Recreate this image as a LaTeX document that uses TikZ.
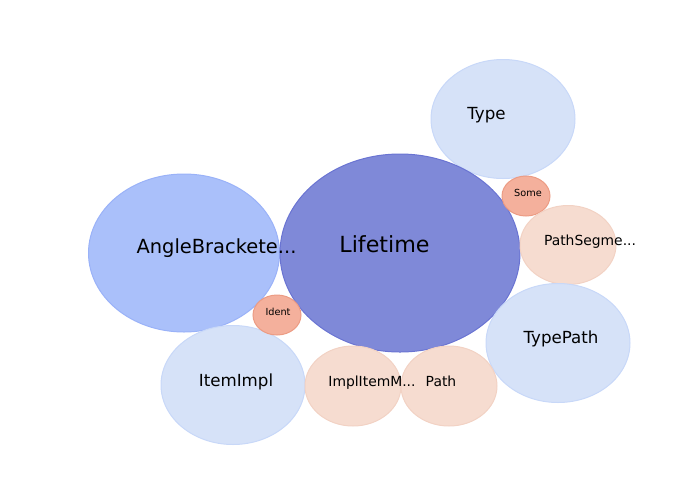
\documentclass[tikz,border=0pt]{standalone}
\usepackage{fontspec}
\setmainfont{DejaVu Sans}
\usepackage{xcolor}
\usetikzlibrary{shapes.geometric}

\definecolor{deepblue}{HTML}{7F89D8}
\definecolor{deepblueedge}{HTML}{6A74D2}
\definecolor{midblue}{HTML}{AAC0FA}
\definecolor{midblueedge}{HTML}{9AB2F8}
\definecolor{paleblue}{HTML}{D6E2F8}
\definecolor{paleblueedge}{HTML}{C8D8F8}
\definecolor{salmon}{HTML}{F4B09C}
\definecolor{salmonedge}{HTML}{EC9C84}
\definecolor{peach}{HTML}{F6DCD0}
\definecolor{peachedge}{HTML}{F2D2C4}

\tikzset{
  bubble/.style={ellipse, inner sep=0pt, outer sep=0pt, line width=0.72pt},
  tag/.style={anchor=base, inner sep=0pt, text=black}
}

\begin{document}
\begin{tikzpicture}[x=0.72pt, y=-0.72pt]
  % canvas, 700 x 500 px
  \useasboundingbox (0,0) rectangle (700,500);
  % bubbles: name / centre x / centre y / x radius / y radius / fill / edge
  \foreach \n/\cx/\cy/\rx/\ry/\fc/\ec in {
      type/503/119/72/59.5/paleblue/paleblueedge,
      angle/184/253/95.5/79/midblue/midblueedge,
      lifetime/400/253/120/99/deepblue/deepblueedge,
      some/526/196/24/20/salmon/salmonedge,
      pathseg/568/245/48/39.5/peach/peachedge,
      typepath/558/343/72/59.5/paleblue/paleblueedge,
      itemimpl/233/385/72/59.5/paleblue/paleblueedge,
      ident/277/315/24/20/salmon/salmonedge,
      implitem/353/386/48/40/peach/peachedge,
      path/449/386/48/40/peach/peachedge} {
    \node[bubble, fill=\fc, draw=\ec,
          minimum width={2*\rx*0.72pt}, minimum height={2*\ry*0.72pt}]
          (\n) at (\cx,\cy) {};
  }
  % labels, placed on their baselines
  \node[tag, font=\fontsize{16}{19}\selectfont] (lifetime-t) at (384.5,252) {Lifetime};
  \node[tag, font=\fontsize{14}{17}\selectfont] (angle-t) at (216.5,253) {AngleBrackete...};
  \node[tag, font=\fontsize{12}{14}\selectfont] (type-t) at (486.5,119) {Type};
  \node[tag, font=\fontsize{12}{14}\selectfont] (typepath-t) at (561,343.5) {TypePath};
  \node[tag, font=\fontsize{12}{14}\selectfont] (itemimpl-t) at (236,386.5) {ItemImpl};
  \node[tag, font=\fontsize{10}{12}\selectfont] (pathseg-t) at (590,245.5) {PathSegme...};
  \node[tag, font=\fontsize{10}{12}\selectfont] (implitem-t) at (372,386.5) {ImplItemM...};
  \node[tag, font=\fontsize{10}{12}\selectfont] (path-t) at (441,386.5) {Path};
  \node[tag, font=\fontsize{7}{8}\selectfont] (ident-t) at (278,315) {Ident};
  \node[tag, font=\fontsize{7}{8}\selectfont] (some-t) at (528,196) {Some};
\end{tikzpicture}
\end{document}
